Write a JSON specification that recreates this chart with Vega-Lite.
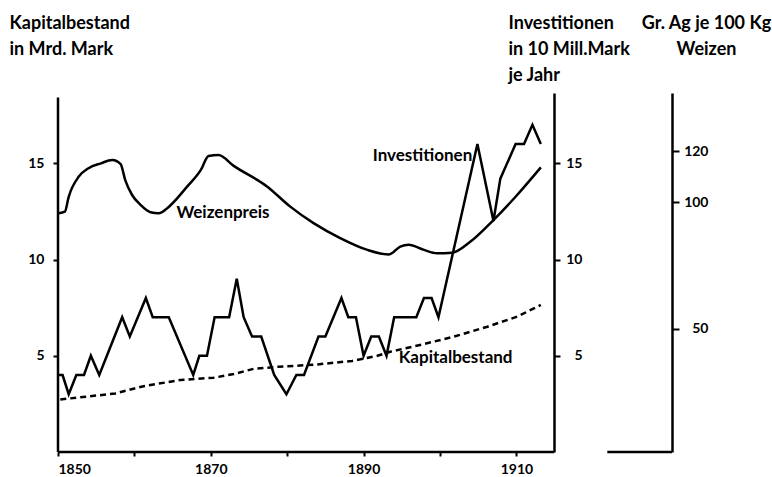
{
  "$schema": "https://vega.github.io/schema/vega-lite/v6.json",
  "width": 614,
  "height": 359,
  "autosize": {"type": "none"},
  "padding": {"left": 58, "top": 93, "right": 100, "bottom": 25},
  "background": "white",
  "config": {
    "view": {"stroke": null},
    "font": "Lato",
    "axis": {
      "grid": false,
      "domainColor": "black",
      "domainWidth": 2.5,
      "tickColor": "black",
      "tickWidth": 2,
      "labelColor": "black",
      "labelFont": "Lato",
      "labelFontWeight": "bold",
      "labelFontSize": 14,
      "titleColor": "black",
      "titleFont": "Lato",
      "titleFontWeight": "bold",
      "titleFontSize": 18,
      "titleAngle": 0,
      "titleBaseline": "alphabetic",
      "titleLineHeight": 26
    }
  },
  "datasets": {
    "kapital": [
      {"year": 1850.3, "value": 2.73},
      {"year": 1857.5, "value": 3.04},
      {"year": 1861.2, "value": 3.42},
      {"year": 1866.0, "value": 3.74},
      {"year": 1870.4, "value": 3.86},
      {"year": 1873.0, "value": 4.05},
      {"year": 1875.6, "value": 4.32},
      {"year": 1878.9, "value": 4.43},
      {"year": 1883.7, "value": 4.54},
      {"year": 1888.5, "value": 4.73},
      {"year": 1891.8, "value": 5.0},
      {"year": 1893.5, "value": 5.21},
      {"year": 1897.4, "value": 5.56},
      {"year": 1901.8, "value": 5.99},
      {"year": 1906.2, "value": 6.51},
      {"year": 1910.1, "value": 7.03},
      {"year": 1913.2, "value": 7.64}
    ],
    "invest": [
      {"year": 1850.0, "value": 4},
      {"year": 1850.6, "value": 4},
      {"year": 1851.4, "value": 3},
      {"year": 1852.4, "value": 4},
      {"year": 1853.4, "value": 4},
      {"year": 1854.3, "value": 5},
      {"year": 1855.4, "value": 4},
      {"year": 1858.4, "value": 7},
      {"year": 1859.4, "value": 6},
      {"year": 1861.5, "value": 8},
      {"year": 1862.4, "value": 7},
      {"year": 1864.5, "value": 7},
      {"year": 1867.7, "value": 4},
      {"year": 1868.5, "value": 5},
      {"year": 1869.5, "value": 5},
      {"year": 1870.5, "value": 7},
      {"year": 1872.4, "value": 7},
      {"year": 1873.4, "value": 9},
      {"year": 1874.3, "value": 7},
      {"year": 1875.4, "value": 6},
      {"year": 1876.6, "value": 6},
      {"year": 1878.3, "value": 4},
      {"year": 1879.9, "value": 3},
      {"year": 1881.2, "value": 4},
      {"year": 1882.2, "value": 4},
      {"year": 1884.1, "value": 6},
      {"year": 1885.0, "value": 6},
      {"year": 1887.1, "value": 8},
      {"year": 1888.0, "value": 7},
      {"year": 1889.0, "value": 7},
      {"year": 1890.0, "value": 5},
      {"year": 1891.0, "value": 6},
      {"year": 1892.0, "value": 6},
      {"year": 1893.0, "value": 5},
      {"year": 1894.0, "value": 7},
      {"year": 1896.9, "value": 7},
      {"year": 1897.9, "value": 8},
      {"year": 1898.9, "value": 8},
      {"year": 1899.8, "value": 7},
      {"year": 1904.9, "value": 16},
      {"year": 1907.0, "value": 12},
      {"year": 1907.9, "value": 14.2},
      {"year": 1909.9, "value": 16},
      {"year": 1911.0, "value": 16},
      {"year": 1912.1, "value": 17},
      {"year": 1913.2, "value": 16}
    ],
    "weizen": [
      {"year": 1850.1, "price": 95.6},
      {"year": 1850.9, "price": 96.2},
      {"year": 1851.4, "price": 102.1},
      {"year": 1852.7, "price": 110.0},
      {"year": 1854.0, "price": 113.4},
      {"year": 1855.6, "price": 115.3},
      {"year": 1857.1, "price": 116.6},
      {"year": 1858.2, "price": 115.0},
      {"year": 1858.8, "price": 108.7},
      {"year": 1859.7, "price": 102.8},
      {"year": 1860.8, "price": 98.9},
      {"year": 1862.1, "price": 96.0},
      {"year": 1863.2, "price": 95.6},
      {"year": 1864.3, "price": 97.6},
      {"year": 1866.9, "price": 106.1},
      {"year": 1868.7, "price": 112.7},
      {"year": 1869.7, "price": 118.2},
      {"year": 1871.0, "price": 118.6},
      {"year": 1873.0, "price": 114.3},
      {"year": 1877.4, "price": 106.1},
      {"year": 1880.4, "price": 98.2},
      {"year": 1883.5, "price": 91.6},
      {"year": 1887.0, "price": 85.7},
      {"year": 1890.5, "price": 81.1},
      {"year": 1893.3, "price": 79.3},
      {"year": 1894.8, "price": 82.4},
      {"year": 1895.9, "price": 83.1},
      {"year": 1897.9, "price": 81.1},
      {"year": 1899.6, "price": 79.8},
      {"year": 1901.6, "price": 80.0},
      {"year": 1904.0, "price": 84.4},
      {"year": 1907.0, "price": 92.9},
      {"year": 1910.1, "price": 102.8},
      {"year": 1913.2, "price": 113.7}
    ],
    "labels": [
      {"year": 1865.5, "value": 12.16, "label": "Weizenpreis"},
      {"year": 1891.2, "value": 15.13, "label": "Investitionen"},
      {"year": 1894.6, "value": 4.62, "label": "Kapitalbestand"}
    ]
  },
  "layer": [
    {
      "layer": [
        {
          "data": {"name": "kapital"},
          "mark": {"type": "line", "color": "black", "strokeWidth": 2.5, "strokeDash": [6, 4]},
          "encoding": {
            "x": {
              "field": "year", "type": "quantitative",
              "scale": {"domain": [1850, 1930.37], "nice": false, "zero": false},
              "axis": {
                "title": null,
                "values": [1850, 1860, 1870, 1880, 1890, 1900, 1910],
                "format": "d",
                "labelExpr": "datum.value % 20 == 10 ? datum.label : ''",
                "domain": false,
                "tickSize": 4,
                "labelPadding": 6,
                "labelFontSize": 14
              }
            },
            "y": {
              "field": "value", "type": "quantitative",
              "scale": {"domain": [0, 18.65], "nice": false, "zero": false},
              "axis": {
                "orient": "left",
                "values": [5, 10, 15],
                "domain": false,
                "tickSize": 5,
                "labelPadding": 9,
                "title": ["Kapitalbestand", "in Mrd. Mark"],
                "titleAlign": "left",
                "titleX": -49,
                "titleY": -65
              }
            }
          }
        },
        {
          "data": {"values": [{}]},
          "mark": {"type": "rule", "color": "black", "strokeWidth": 2.5},
          "encoding": {
            "x": {"datum": 1850, "type": "quantitative"},
            "y": {"datum": 0, "type": "quantitative"},
            "y2": {"datum": 18.41}
          }
        },
        {
          "data": {"values": [{}]},
          "mark": {"type": "rule", "color": "black", "strokeWidth": 2.5},
          "encoding": {
            "x": {"datum": 1850, "type": "quantitative"},
            "x2": {"datum": 1914.95},
            "y": {"datum": 0, "type": "quantitative"}
          }
        },
        {
          "data": {"values": [{}]},
          "mark": {"type": "rule", "color": "black", "strokeWidth": 2.5},
          "encoding": {
            "x": {"datum": 1921.9, "type": "quantitative"},
            "x2": {"datum": 1930.37},
            "y": {"datum": 0, "type": "quantitative"}
          }
        },
        {
          "data": {"name": "labels"},
          "mark": {"type": "text", "align": "left", "baseline": "alphabetic", "fontSize": 17, "fontWeight": "bold", "font": "Lato", "color": "black"},
          "encoding": {
            "x": {"field": "year", "type": "quantitative"},
            "y": {"field": "value", "type": "quantitative"},
            "text": {"field": "label"}
          }
        }
      ]
    },
    {
      "data": {"name": "invest"},
      "mark": {"type": "line", "color": "black", "strokeWidth": 2.5},
      "encoding": {
        "x": {"field": "year", "type": "quantitative"},
        "y": {
          "field": "value", "type": "quantitative",
          "scale": {"domain": [0, 18.65], "nice": false, "zero": false},
          "axis": {
            "orient": "right",
            "offset": -118,
            "values": [5, 10, 15],
            "tickSize": 6,
            "labelAlign": "right",
            "labelPadding": 22,
            "title": ["Investitionen", "in 10 Mill.Mark", "je Jahr"],
            "titleAlign": "left",
            "titleX": -46,
            "titleY": -65
          }
        }
      }
    },
    {
      "data": {"name": "weizen"},
      "mark": {"type": "line", "color": "black", "strokeWidth": 2.5, "interpolate": "monotone"},
      "encoding": {
        "x": {"field": "year", "type": "quantitative"},
        "y": {
          "field": "price", "type": "quantitative",
          "scale": {"domain": [1.26, 143.1], "nice": false, "zero": false},
          "axis": {
            "orient": "right",
            "offset": 0,
            "values": [50, 100, 120],
            "tickSize": 7,
            "labelAlign": "right",
            "labelPadding": 29,
            "title": ["Gr. Ag je 100 Kg", "Weizen"],
            "titleAlign": "center",
            "titleX": 34,
            "titleY": -65
          }
        }
      }
    }
  ],
  "resolve": {"scale": {"y": "independent"}}
}
